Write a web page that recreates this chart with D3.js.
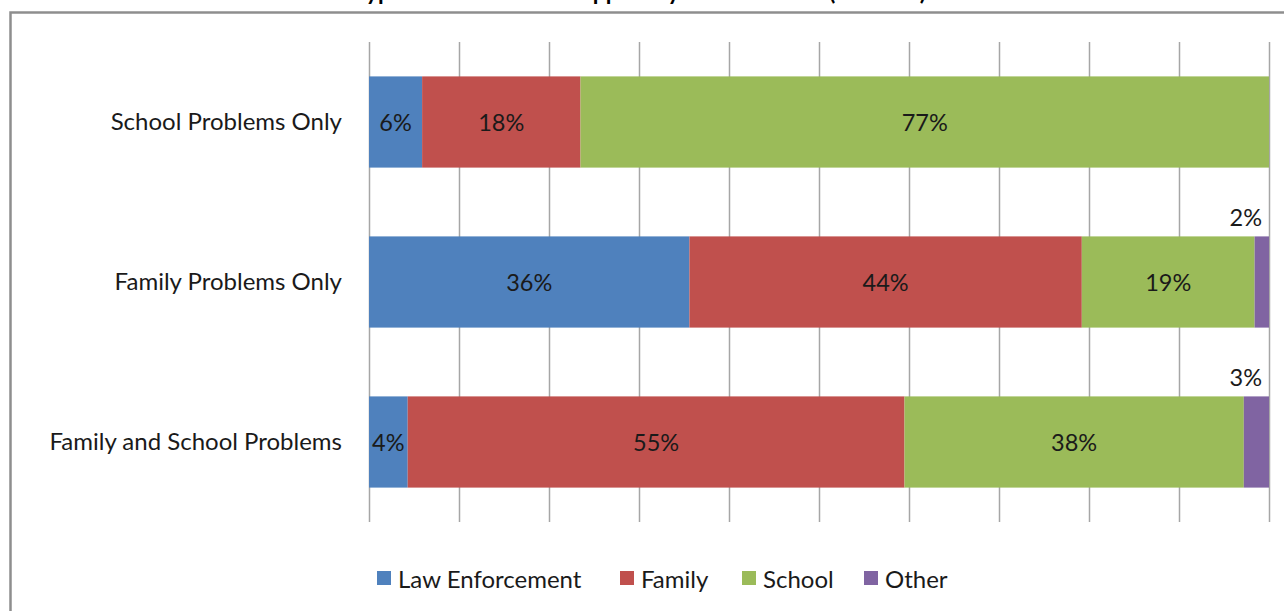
<!DOCTYPE html>
<html>
<head>
<meta charset="utf-8">
<script src="https://cdn.jsdelivr.net/npm/d3@7"></script>
<style>
  body { margin: 0; background: #fff; }
  svg { display: block; font-family: Lato, "Open Sans", sans-serif; }
</style>
</head>
<body>
<svg id="drawing_region"></svg>
<script>
// chart data
const categories = ['School Problems Only', 'Family Problems Only', 'Family and School Problems'];
const series = ['Law Enforcement', 'Family', 'School', 'Other'];
const lawEnforcement = [5.9, 35.6, 4.3];
const family = [17.6, 43.6, 55.2];
const school = [76.5, 19.2, 37.7];
const other = [0, 1.6, 2.8];
const xTicks = [0, 10, 20, 30, 40, 50, 60, 70, 80, 90, 100];
const colors = ['#4f81bd', '#c0504d', '#9bbb59', '#8064a2'];
const titleText = 'Type of Intervention Support by Problem Area (N=1024)';

const width = 1284, height = 611;
const margin = {top: 42, right: 15, bottom: 89, left: 369};

const svg = d3.select('#drawing_region')
    .attr('width', width)
    .attr('height', height);

// outer frame (runs off the right/bottom edge like the original)
svg.append('rect')
    .attr('x', 10.5).attr('y', 12.5)
    .attr('width', width + 20).attr('height', height + 20)
    .attr('fill', 'none')
    .attr('stroke', '#8e8e8e')
    .attr('stroke-width', 2.5);

// title, mostly cut off at the top
svg.append('text')
    .attr('x', 640).attr('y', 0)
    .attr('text-anchor', 'middle')
    .attr('font-size', 23)
    .attr('font-weight', 'bold')
    .text(titleText);

const rows = categories.map((c, i) => ({
    category: c,
    'Law Enforcement': lawEnforcement[i],
    'Family': family[i],
    'School': school[i],
    'Other': other[i]
}));

const stacked = d3.stack().keys(series)(rows);

const xscale = d3.scaleLinear()
    .domain([0, 100])
    .range([margin.left, width - margin.right]);

const yscale = d3.scaleBand()
    .domain(categories)
    .range([margin.top, height - margin.bottom])
    .paddingInner(0.43)
    .paddingOuter(0.215);

// gridlines
svg.append('g')
    .selectAll('line')
    .data(xTicks)
    .join('line')
    .attr('x1', d => Math.round(xscale(d)) + 0.5)
    .attr('x2', d => Math.round(xscale(d)) + 0.5)
    .attr('y1', margin.top)
    .attr('y2', height - margin.bottom)
    .attr('stroke', '#a6a6a6')
    .attr('stroke-width', 1.5);

// category axis labels
const yaxis = d3.axisLeft(yscale).tickSize(0).tickPadding(27);
svg.append('g')
    .attr('transform', `translate(${margin.left}, 0)`)
    .call(yaxis)
    .call(g => g.select('.domain').remove())
    .selectAll('text')
    .attr('font-family', 'Lato, sans-serif')
    .attr('font-size', 24)
    .attr('fill', '#1a1a1a');

// stacked bars
const layers = svg.append('g')
    .selectAll('g')
    .data(stacked)
    .join('g')
    .attr('fill', (d, i) => colors[i]);

layers.selectAll('rect')
    .data(d => d.map(v => ({v, key: d.key})))
    .join('rect')
    .attr('x', d => xscale(d.v[0]))
    .attr('y', d => yscale(d.v.data.category))
    .attr('width', d => xscale(d.v[1]) - xscale(d.v[0]))
    .attr('height', yscale.bandwidth());

// value labels
const labels = [];
stacked.forEach(layer => layer.forEach(v => {
    const val = v[1] - v[0];
    if (val > 0) labels.push({v, val});
}));

svg.append('g')
    .selectAll('text')
    .data(labels)
    .join('text')
    .attr('x', d => d.val < 3.5 ? xscale(100) - 7 : (xscale(d.v[0]) + xscale(d.v[1])) / 2)
    .attr('y', d => d.val < 3.5 ? yscale(d.v.data.category) - 19 : yscale(d.v.data.category) + yscale.bandwidth() / 2)
    .attr('text-anchor', d => d.val < 3.5 ? 'end' : 'middle')
    .attr('dominant-baseline', 'central')
    .attr('font-size', 23.5)
    .attr('fill', '#1a1a1a')
    .text(d => Math.round(d.val) + '%');

// legend
const legendX = [377, 620, 742, 864];
const legend = svg.append('g')
    .selectAll('g')
    .data(series)
    .join('g')
    .attr('transform', (d, i) => `translate(${legendX[i]}, 578)`);

legend.append('rect')
    .attr('x', 0).attr('y', -7)
    .attr('width', 14).attr('height', 14)
    .attr('fill', (d, i) => colors[i]);

legend.append('text')
    .attr('x', 21).attr('y', 0)
    .attr('dominant-baseline', 'central')
    .attr('font-size', 24)
    .attr('fill', '#1a1a1a')
    .text(d => d);
</script>
</body>
</html>
